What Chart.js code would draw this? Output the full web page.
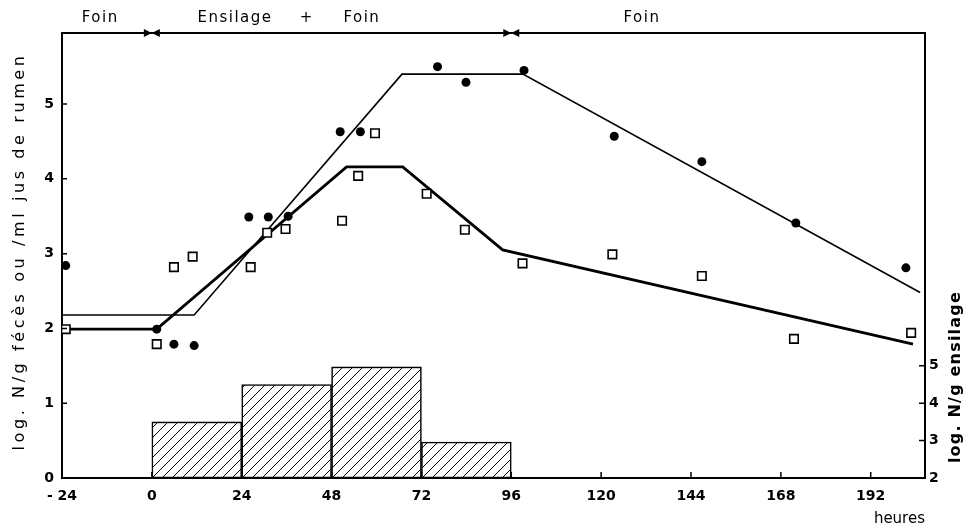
<!DOCTYPE html>
<html><head><meta charset="utf-8">
<script src="https://cdn.jsdelivr.net/npm/chart.js@4/dist/chart.umd.min.js"></script>
<style>html,body{margin:0;padding:0;background:#fff}</style>
</head><body>
<canvas id="c" width="966" height="531"></canvas>
<script>
// ---------- data ----------
const hourTicks = [-24, 0, 24, 48, 72, 96, 120, 144, 168, 192];
const hourTickLabels = ['- 24', '0', '24', '48', '72', '96', '120', '144', '168', '192'];
const leftTicks = [0, 1, 2, 3, 4, 5];
const rightTicks = [2, 3, 4, 5];

const dotHours   = [-23, 1.3, 5.9, 11.3, 25.9, 31.1, 36.4, 50.3, 55.7, 76.3, 83.9, 99.4, 123.5, 146.9, 172.0, 201.4];
const dotValues  = [2.84, 1.99, 1.79, 1.77, 3.49, 3.49, 3.50, 4.63, 4.63, 5.50, 5.29, 5.45, 4.57, 4.23, 3.41, 2.81];

const squareHours  = [-23, 1.3, 5.9, 10.9, 26.4, 30.8, 35.7, 50.8, 55.1, 59.6, 73.4, 83.6, 99.0, 123.0, 146.9, 171.5, 202.8];
const squareValues = [1.99, 1.79, 2.82, 2.96, 2.82, 3.28, 3.33, 3.44, 4.04, 4.61, 3.80, 3.32, 2.87, 2.99, 2.70, 1.86, 1.94];

const dotFitHours  = [-24, 11.3, 66.8, 99.1, 205.2];
const dotFitValues = [2.18, 2.18, 5.40, 5.40, 2.48];

const squareFitHours  = [-24, 1.3, 52.0, 67.0, 93.7, 203.3];
const squareFitValues = [1.99, 1.99, 4.16, 4.16, 3.05, 1.79];

const silageBinStart = [0, 24, 48, 72];
const silageBinEnd   = [24, 48, 72, 96];
const silageValues   = [3.5, 4.5, 4.97, 2.96];
const silageBase = 2;

const phaseBoundaries = [0, 96];
const headerWords = ['Foin', 'Ensilage', '+', 'Foin', 'Foin'];
const headerWordHours = [-13.8, 22.2, 41.4, 56.1, 130.9];

const leftTitle = 'log. N/g fécès ou /ml jus de rumen';
const rightTitle = 'log. N/g ensilage';
const xTitle = 'heures';

// ---------- helpers ----------
const FONT = "'DejaVu Sans', 'Liberation Sans', sans-serif";
function pts(xs, ys) { return xs.map((x, i) => ({ x: x, y: ys[i] })); }
function hatch() {
  const s = 10, c = document.createElement('canvas');
  c.width = s; c.height = s;
  const g = c.getContext('2d');
  g.fillStyle = '#fff'; g.fillRect(0, 0, s, s);
  g.strokeStyle = '#000'; g.lineWidth = 1;
  g.beginPath();
  g.moveTo(0, s); g.lineTo(s, 0);
  g.moveTo(-1, 1); g.lineTo(1, -1);
  g.moveTo(s - 1, s + 1); g.lineTo(s + 1, s - 1);
  g.stroke();
  return g.createPattern(c, 'repeat');
}
function setTicks(list) { return function (scale) { scale.ticks = list.map(v => ({ value: v })); }; }

const decor = {
  id: 'decor',
  afterDraw(chart) {
    const ctx = chart.ctx, a = chart.chartArea;
    const xs = chart.scales.x, ys = chart.scales.y, y2 = chart.scales.y2;
    ctx.save();
    ctx.strokeStyle = '#000'; ctx.fillStyle = '#000';
    // top timeline
    ctx.lineWidth = 2;
    ctx.beginPath(); ctx.moveTo(a.left, a.top); ctx.lineTo(a.right, a.top); ctx.stroke();
    phaseBoundaries.forEach(h => {
      const x = xs.getPixelForValue(h), y = a.top;
      ctx.beginPath();
      ctx.moveTo(x - 8, y - 4); ctx.lineTo(x, y); ctx.lineTo(x - 8, y + 4); ctx.closePath();
      ctx.moveTo(x + 8, y - 4); ctx.lineTo(x, y); ctx.lineTo(x + 8, y + 4); ctx.closePath();
      ctx.fill();
    });
    // header words
    ctx.font = '15px ' + FONT;
    ctx.letterSpacing = '1.5px';
    ctx.textAlign = 'center'; ctx.textBaseline = 'middle';
    headerWords.forEach((w, i) => ctx.fillText(w, xs.getPixelForValue(headerWordHours[i]), 18));
    // inward ticks
    ctx.lineWidth = 1.5;
    ctx.beginPath();
    xs.ticks.forEach(t => { const x = xs.getPixelForValue(t.value); ctx.moveTo(x, a.bottom); ctx.lineTo(x, a.bottom - 6); });
    ys.ticks.forEach(t => { const y = ys.getPixelForValue(t.value); ctx.moveTo(a.left, y); ctx.lineTo(a.left + 5, y); });
    y2.ticks.forEach(t => { const y = y2.getPixelForValue(t.value); ctx.moveTo(a.right, y); ctx.lineTo(a.right - 6, y); });
    ctx.stroke();
    // axis titles
    ctx.font = '16px ' + FONT;
    ctx.letterSpacing = '3.6px';
    ctx.save(); ctx.translate(20, (a.top + a.bottom) / 2 - 4); ctx.rotate(-Math.PI / 2);
    ctx.fillText(leftTitle, 0, 0); ctx.restore();
    ctx.font = 'bold 16px ' + FONT;
    ctx.letterSpacing = '1.2px';
    ctx.save(); ctx.translate(956, y2.getPixelForValue(4.7)); ctx.rotate(-Math.PI / 2);
    ctx.fillText(rightTitle, 0, 0); ctx.restore();
    ctx.restore();
  }
};

new Chart(document.getElementById('c'), {
  type: 'scatter',
  data: {
    datasets: [
      { type: 'scatter', data: pts(dotHours, dotValues), yAxisID: 'y', order: 0,
        pointStyle: 'circle', pointRadius: 4.5, backgroundColor: '#000', borderColor: '#000', borderWidth: 0 },
      { type: 'scatter', data: pts(squareHours, squareValues), yAxisID: 'y', order: 0,
        pointStyle: 'rect', pointRadius: 6, backgroundColor: '#fff', borderColor: '#000', borderWidth: 1.6 },
      { type: 'line', data: pts(dotFitHours, dotFitValues), yAxisID: 'y', order: 1,
        borderColor: '#000', borderWidth: 1.6, pointRadius: 0, tension: 0, fill: false },
      { type: 'line', data: pts(squareFitHours, squareFitValues), yAxisID: 'y', order: 1,
        borderColor: '#000', borderWidth: 2.8, pointRadius: 0, tension: 0, fill: false },
      { type: 'bar', yAxisID: 'y2', order: 2,
        data: silageBinStart.map((s, i) => ({ x: (s + silageBinEnd[i]) / 2, y: [silageBase, silageValues[i]] })),
        backgroundColor: hatch(), borderColor: '#000', borderWidth: 1.6, borderSkipped: false,
        barPercentage: 1, categoryPercentage: 1 }
    ]
  },
  options: {
    responsive: false, animation: false, devicePixelRatio: 1,
    layout: { padding: { top: 33, left: 0, right: 0, bottom: 0 } },
    plugins: { legend: { display: false }, tooltip: { enabled: false } },
    scales: {
      x: {
        type: 'linear', min: -24, max: 206.5, offset: false,
        afterBuildTicks: setTicks(hourTicks),
        afterFit(s) { s.height = 53; },
        grid: { display: false, drawTicks: false },
        border: { display: true, color: '#000', width: 2 },
        ticks: { color: '#000', padding: 10, maxRotation: 0, autoSkip: false,
          font: { family: FONT, size: 14, weight: 'bold' },
          callback: (v, i) => hourTickLabels[i] },
        title: { display: true, text: xTitle, align: 'end', color: '#000',
          font: { family: FONT, size: 15 }, padding: { top: 0, bottom: 3 } }
      },
      y: {
        type: 'linear', position: 'left', min: 0, max: 5.95,
        afterBuildTicks: setTicks(leftTicks),
        afterFit(s) { s.width = 62; },
        grid: { display: false, drawTicks: false },
        border: { display: true, color: '#000', width: 2 },
        ticks: { color: '#000', padding: 8, font: { family: FONT, size: 14, weight: 'bold' } }
      },
      y2: {
        type: 'linear', position: 'right', min: 2, max: 13.9,
        afterBuildTicks: setTicks(rightTicks),
        afterFit(s) { s.width = 41; },
        grid: { display: false, drawTicks: false },
        border: { display: true, color: '#000', width: 2 },
        ticks: { color: '#000', padding: 4, font: { family: FONT, size: 14, weight: 'bold' } }
      }
    }
  },
  plugins: [decor]
});
</script>
</body></html>
